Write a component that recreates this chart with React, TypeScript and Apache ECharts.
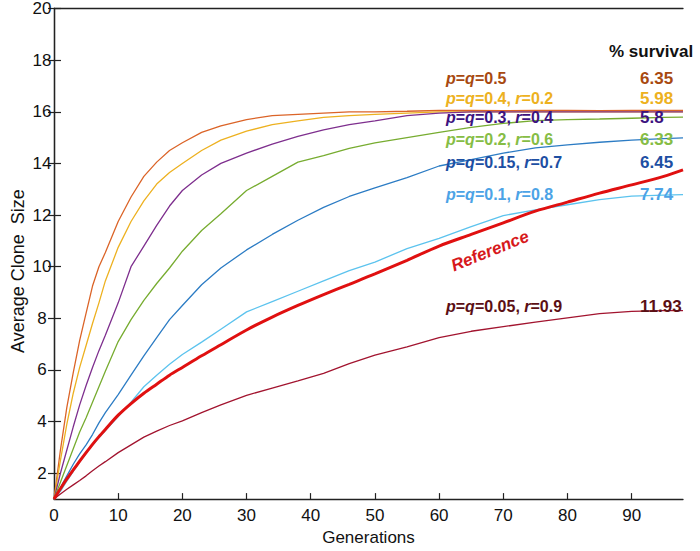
import React, { useEffect, useRef } from "react";
import * as echarts from "echarts";

const GENS = [0, 1, 2, 3, 4, 5, 6, 7, 8, 10, 12, 14, 16, 18, 20, 23, 26, 30, 34, 38, 42, 46, 50, 55, 60, 65, 70, 75, 80, 85, 90, 95, 98];

const P05 = [1, 2.9, 4.55, 5.9, 7.15, 8.2, 9.25, 10.0, 10.55, 11.75, 12.7, 13.5, 14.05, 14.5, 14.8, 15.2, 15.45, 15.7, 15.85, 15.9, 15.95, 16.0, 16.0, 16.02, 16.05, 16.05, 16.04, 16.05, 16.05, 16.04, 16.05, 16.05, 16.05];
const P04 = [1, 2.5, 3.9, 5.1, 6.1, 6.95, 7.8, 8.6, 9.45, 10.75, 11.75, 12.55, 13.2, 13.65, 14.0, 14.5, 14.9, 15.25, 15.5, 15.65, 15.78, 15.85, 15.9, 15.95, 16.0, 16.0, 16.0, 16.0, 16.0, 16.0, 16.0, 16.0, 16.0];
const P03 = [1, 2.0, 2.9, 3.8, 4.65, 5.4, 6.1, 6.75, 7.35, 8.6, 10.0, 10.8, 11.6, 12.35, 12.95, 13.55, 14.0, 14.4, 14.75, 15.05, 15.3, 15.5, 15.65, 15.85, 15.95, 16.0, 16.0, 16.0, 16.0, 16.0, 16.0, 16.0, 16.0];
const P02 = [1, 1.65, 2.3, 2.95, 3.6, 4.15, 4.75, 5.35, 5.95, 7.1, 7.95, 8.7, 9.35, 9.95, 10.6, 11.4, 12.05, 12.95, 13.5, 14.05, 14.3, 14.58, 14.8, 15.0, 15.2, 15.4, 15.55, 15.66, 15.7, 15.72, 15.75, 15.78, 15.79];
const P015 = [1, 1.45, 1.9, 2.35, 2.75, 3.1, 3.5, 3.95, 4.35, 5.05, 5.8, 6.55, 7.25, 7.95, 8.5, 9.3, 9.95, 10.65, 11.25, 11.8, 12.3, 12.72, 13.05, 13.45, 13.9, 14.15, 14.4, 14.6, 14.72, 14.82, 14.9, 14.96, 14.99];
const P01 = [1, 1.3, 1.7, 2.07, 2.43, 2.77, 3.08, 3.37, 3.65, 4.2, 4.75, 5.35, 5.8, 6.22, 6.6, 7.08, 7.58, 8.25, 8.65, 9.05, 9.45, 9.85, 10.18, 10.7, 11.1, 11.55, 11.98, 12.2, 12.4, 12.6, 12.73, 12.77, 12.79];
const P005 = [1, 1.2, 1.38, 1.55, 1.72, 1.9, 2.1, 2.28, 2.45, 2.8, 3.1, 3.4, 3.63, 3.85, 4.03, 4.35, 4.65, 5.02, 5.3, 5.58, 5.87, 6.25, 6.58, 6.9, 7.25, 7.5, 7.68, 7.85, 8.02, 8.18, 8.27, 8.3, 8.3];
const REF = [1, 1.4, 1.78, 2.13, 2.47, 2.8, 3.12, 3.42, 3.7, 4.25, 4.7, 5.1, 5.45, 5.8, 6.1, 6.55, 6.98, 7.55, 8.05, 8.5, 8.92, 9.32, 9.72, 10.25, 10.8, 11.25, 11.7, 12.15, 12.5, 12.85, 13.17, 13.5, 13.75];

const X_TICKS = [0, 10, 20, 30, 40, 50, 60, 70, 80, 90];
const Y_TICKS = [2, 4, 6, 8, 10, 12, 14, 16, 18, 20];

// label texts: [italic?, text] parts
const LABEL_PARTS: [boolean, string][][] = [
  [[true, "p"], [false, "="], [true, "q"], [false, "=0.5"]],
  [[true, "p"], [false, "="], [true, "q"], [false, "=0.4, "], [true, "r"], [false, "=0.2"]],
  [[true, "p"], [false, "="], [true, "q"], [false, "=0.3, "], [true, "r"], [false, "=0.4"]],
  [[true, "p"], [false, "="], [true, "q"], [false, "=0.2, "], [true, "r"], [false, "=0.6"]],
  [[true, "p"], [false, "="], [true, "q"], [false, "=0.15, "], [true, "r"], [false, "=0.7"]],
  [[true, "p"], [false, "="], [true, "q"], [false, "=0.1, "], [true, "r"], [false, "=0.8"]],
  [[true, "p"], [false, "="], [true, "q"], [false, "=0.05, "], [true, "r"], [false, "=0.9"]],
];
const SURVIVAL = ["6.35", "5.98", "5.8", "6.33", "6.45", "7.74", "11.93"];

const FONT = "'Liberation Sans', Arial, Helvetica, sans-serif";

export default function App() {
  const ref = useRef<HTMLDivElement>(null);
  useEffect(() => {
    if (!ref.current) return;
    const chart = echarts.init(ref.current, null, { renderer: "svg" });

    const lineColors = ["#DB6428", "#EDB120", "#7E2F8E", "#77AC30", "#2C7CC4", "#5CC3EE", "#A2142F"];
    const labelColors = ["#A8490F", "#EDB120", "#3D137F", "#86BD45", "#1D4FA3", "#4CA3E6", "#5B0F14"];
    const labelY = [78, 98, 117, 139, 162.5, 194, 306.5];
    const seriesVals = [P05, P04, P03, P02, P015, P01, P005];
    const LF = 16;

    const mk = (vals: number[]) => GENS.map((g, i) => [g, vals[i]]);

    const series: any[] = seriesVals.map((vals, k) => ({
      type: "line",
      data: mk(vals),
      showSymbol: false,
      lineStyle: { color: lineColors[k], width: 1.3 },
      z: 2,
    }));
    series.push({
      type: "line",
      data: mk(REF),
      showSymbol: false,
      smooth: 0.3,
      lineStyle: { color: "#E01010", width: 3 },
      z: 3,
    });

    const graphic: any[] = [];
    LABEL_PARTS.forEach((parts, k) => {
      const text = parts.map(([it, t]) => `{${it ? "i" : "n"}|${t}}`).join("");
      graphic.push({
        type: "text",
        x: 446,
        y: labelY[k],
        z: 10,
        style: {
          text,
          verticalAlign: "middle",
          align: "left",
          fill: labelColors[k],
          rich: {
            i: { fontStyle: "italic", fontWeight: "bold", fontSize: LF, lineHeight: 15, fontFamily: FONT, fill: labelColors[k] },
            n: { fontWeight: "bold", fontSize: LF, lineHeight: 15, fontFamily: FONT, fill: labelColors[k] },
          },
        },
      });
      graphic.push({
        type: "text",
        x: 640,
        y: labelY[k],
        z: 10,
        style: {
          text: SURVIVAL[k],
          verticalAlign: "middle",
          align: "left",
          fill: labelColors[k],
          fontWeight: "bold",
          fontSize: 17,
          lineHeight: 15,
          fontFamily: FONT,
        },
      });
    });
    graphic.push({
      type: "text",
      x: 609,
      y: 51,
      z: 10,
      style: { text: "% survival", verticalAlign: "middle", align: "left", fill: "#111", fontWeight: "bold", fontSize: 17, lineHeight: 15, fontFamily: FONT },
    });
    graphic.push({
      type: "text",
      x: 490,
      y: 251,
      rotation: (22 * Math.PI) / 180,
      z: 10,
      style: { text: "Reference", verticalAlign: "middle", align: "center", fill: "#D7191C", fontWeight: "bold", fontStyle: "italic", fontSize: 17, fontFamily: FONT },
    });
    graphic.push({
      type: "text",
      x: 18,
      y: 271,
      rotation: Math.PI / 2,
      style: { text: "Average Clone  Size", verticalAlign: "middle", align: "center", fill: "#111", fontSize: 18, fontFamily: FONT },
    });

    const axisLine = { show: true, lineStyle: { color: "#222", width: 1.3 } };

    chart.setOption({
      animation: false,
      backgroundColor: "#fff",
      grid: { left: 54, right: 17, top: 8, bottom: 48, containLabel: false },
      xAxis: [
        {
          type: "value",
          min: 0,
          max: 98,
          interval: 10,
          axisLine,
          axisTick: { show: true, inside: true, length: 6, customValues: X_TICKS, lineStyle: { color: "#222", width: 1.2 } },
          axisLabel: { customValues: X_TICKS, fontSize: 17, color: "#111", fontFamily: FONT, margin: 8 },
          splitLine: { show: false },
          name: "Generations",
          nameLocation: "middle",
          nameGap: 28,
          nameTextStyle: { fontSize: 17, color: "#111", fontFamily: FONT },
        },
        {
          type: "value",
          position: "top",
          min: 0,
          max: 98,
          axisLine,
          axisTick: { show: false },
          axisLabel: { show: false },
          splitLine: { show: false },
        },
      ],
      yAxis: [
        {
          type: "value",
          min: 1,
          max: 20,
          axisLine,
          axisTick: { show: true, inside: true, length: 7, customValues: Y_TICKS, lineStyle: { color: "#222", width: 1.2 } },
          axisLabel: { customValues: Y_TICKS, fontSize: 17, color: "#111", fontFamily: FONT, margin: 12, align: "center" },
          splitLine: { show: false },
        },
        {
          type: "value",
          position: "right",
          min: 1,
          max: 20,
          axisLine,
          axisTick: { show: true, inside: true, length: 6, customValues: Y_TICKS, lineStyle: { color: "#222", width: 1.2 } },
          axisLabel: { show: false },
          splitLine: { show: false },
        },
      ],
      series,
      graphic,
    });
    return () => chart.dispose();
  }, []);
  return <div ref={ref} style={{ position: "fixed", left: 0, top: 0, width: 700, height: 551 }} />;
}
